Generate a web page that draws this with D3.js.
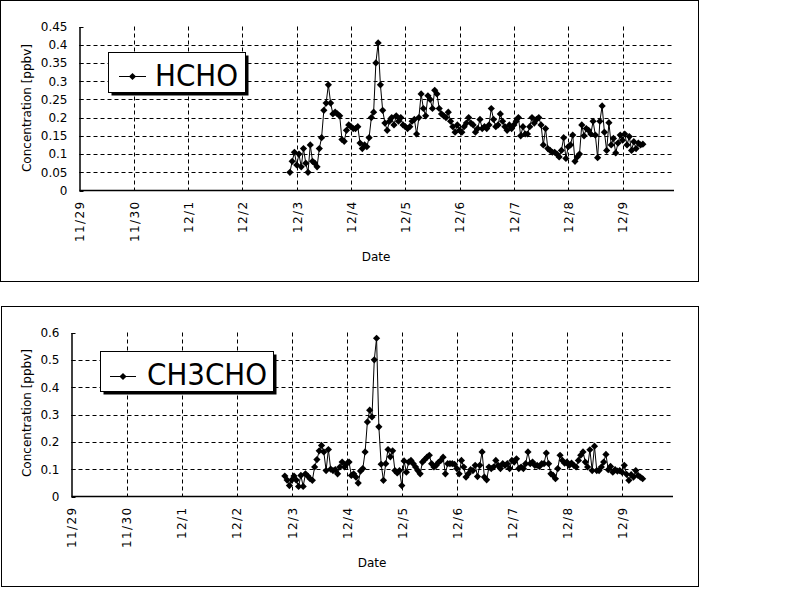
<!DOCTYPE html>
<html><head><meta charset="utf-8">
<script src="https://cdn.jsdelivr.net/npm/d3@7"></script>
<style>body{margin:0;background:#fff}svg{display:block}</style>
</head><body>
<svg id="c" width="800" height="600"></svg>
<script>
// ---------------- DATA ----------------
const xTickLabels = ["11/29","11/30","12/1","12/2","12/3","12/4","12/5","12/6","12/7","12/8","12/9"];
const sampleStart = [2004, 11, 2, 21]; // 12/2 21:00, hourly samples
const hchoYTicks = [0, 0.05, 0.1, 0.15, 0.2, 0.25, 0.3, 0.35, 0.4, 0.45];
const ch3choYTicks = [0, 0.1, 0.2, 0.3, 0.4, 0.5, 0.6];
const hchoValues = [
 0.05,0.08,0.105,0.07,0.1,0.065,0.115,0.075,0.05,0.125,
 0.08,0.075,0.065,0.115,0.145,0.22,0.24,0.29,0.24,0.21,
 0.215,0.21,0.205,0.14,0.135,0.165,0.18,0.175,0.17,0.17,
 0.175,0.13,0.115,0.125,0.12,0.145,0.2,0.215,0.35,0.405,
 0.29,0.22,0.185,0.165,0.19,0.2,0.18,0.205,0.19,0.2,
 0.18,0.175,0.17,0.175,0.19,0.195,0.155,0.2,0.265,0.225,
 0.205,0.26,0.25,0.225,0.275,0.265,0.225,0.21,0.205,0.2,
 0.215,0.19,0.175,0.16,0.18,0.165,0.16,0.175,0.185,0.2,
 0.185,0.18,0.16,0.17,0.195,0.17,0.175,0.17,0.18,0.225,
 0.195,0.175,0.18,0.21,0.19,0.175,0.165,0.18,0.17,0.18,
 0.19,0.2,0.15,0.175,0.155,0.155,0.175,0.2,0.185,0.195,
 0.2,0.18,0.125,0.17,0.115,0.11,0.105,0.105,0.1,0.092,
 0.11,0.145,0.088,0.12,0.125,0.152,0.08,0.092,0.1,0.18,
 0.15,0.17,0.165,0.155,0.19,0.152,0.09,0.19,0.232,0.16,
 0.11,0.186,0.125,0.143,0.103,0.13,0.152,0.138,0.155,0.125,
 0.148,0.11,0.134,0.115,0.13,0.125,0.127
];
const ch3choValues = [
 0.075,0.06,0.04,0.06,0.075,0.06,0.037,0.077,0.037,0.083,
 0.075,0.065,0.059,0.108,0.135,0.167,0.187,0.163,0.095,0.172,
 0.10,0.095,0.098,0.083,0.108,0.126,0.108,0.12,0.126,0.077,
 0.083,0.071,0.049,0.093,0.102,0.163,0.273,0.316,0.291,0.5,
 0.579,0.255,0.118,0.059,0.12,0.172,0.145,0.167,0.095,0.086,
 0.095,0.040,0.130,0.089,0.126,0.132,0.120,0.108,0.095,0.083,
 0.126,0.135,0.144,0.151,0.120,0.108,0.114,0.125,0.132,0.144,
 0.083,0.120,0.120,0.120,0.118,0.102,0.083,0.132,0.108,0.071,
 0.083,0.098,0.095,0.114,0.073,0.114,0.163,0.071,0.061,0.108,
 0.102,0.108,0.132,0.114,0.102,0.120,0.114,0.120,0.102,0.132,
 0.126,0.138,0.102,0.108,0.102,0.120,0.163,0.120,0.126,0.114,
 0.114,0.110,0.120,0.120,0.159,0.120,0.083,0.077,0.065,0.102,
 0.151,0.132,0.122,0.126,0.114,0.122,0.114,0.108,0.132,0.151,
 0.163,0.126,0.108,0.171,0.095,0.184,0.095,0.095,0.108,0.126,
 0.154,0.098,0.11,0.089,0.098,0.093,0.095,0.089,0.114,0.081,
 0.059,0.08,0.071,0.095,0.077,0.071,0.065
];

// ---------------- DRAW ----------------
const svg = d3.select("#c");
const FONT = "'DejaVu Sans', sans-serif";
const startDate = new Date(sampleStart[0], sampleStart[1], sampleStart[2], sampleStart[3]);
const day0 = new Date(2004, 10, 29);
const day10 = new Date(2004, 11, 9);
const tickDates = d3.timeDay.range(day0, d3.timeDay.offset(day10, 1));

function toPoints(vals) {
  return vals.map((v, i) => ({ t: d3.timeHour.offset(startDate, i), v }));
}

function drawChart(cfg) {
  const g = svg.append("g");
  // outer frame
  g.append("rect").attr("x", cfg.frame[0]).attr("y", cfg.frame[1])
    .attr("width", cfg.frame[2]).attr("height", cfg.frame[3])
    .attr("fill", "#fff").attr("stroke", "#000").attr("stroke-width", 1);

  const x = d3.scaleTime().domain([day0, day10]).range([cfg.left, cfg.x10]);
  const y = d3.scaleLinear().domain([0, cfg.yMax]).range([cfg.bottom, cfg.top]);

  // horizontal gridlines
  g.append("g").selectAll("line").data(cfg.yTicks.filter(d => d > 0 && d < cfg.yMax - 1e-9)).join("line")
    .attr("x1", cfg.left).attr("x2", cfg.right)
    .attr("y1", d => Math.round(y(d)) + 0.5).attr("y2", d => Math.round(y(d)) + 0.5)
    .attr("stroke", "#000").attr("stroke-dasharray", "4,3");
  // vertical gridlines
  g.append("g").selectAll("line").data(tickDates.slice(1)).join("line")
    .attr("x1", d => Math.round(x(d)) + 0.5).attr("x2", d => Math.round(x(d)) + 0.5)
    .attr("y1", cfg.top).attr("y2", cfg.bottom)
    .attr("stroke", "#000").attr("stroke-dasharray", "4,3");

  // y axis
  const yAxis = d3.axisLeft(y).tickValues(cfg.yTicks).tickSize(0).tickPadding(12)
    .tickFormat(d => String(+d.toFixed(2)));
  const ya = g.append("g").attr("transform", `translate(${cfg.left},0)`).call(yAxis);
  ya.select(".domain").attr("stroke", "#000").attr("stroke-width", 1.5);
  ya.selectAll("text").attr("font-family", FONT).attr("font-size", 12).attr("fill", "#000");
  // small inner tick marks
  g.append("g").selectAll("line").data(cfg.yTicks).join("line")
    .attr("x1", cfg.left).attr("x2", cfg.left + 4)
    .attr("y1", d => Math.round(y(d)) + 0.5).attr("y2", d => Math.round(y(d)) + 0.5)
    .attr("stroke", "#000");

  // x axis
  const xAxis = d3.axisBottom(x).tickValues(tickDates).tickSize(0).tickPadding(0)
    .tickFormat((d, i) => xTickLabels[i]);
  const xa = g.append("g").attr("transform", `translate(0,${cfg.bottom})`).call(xAxis);
  xa.select(".domain").remove();
  g.append("line").attr("x1", cfg.left).attr("x2", cfg.right)
    .attr("y1", cfg.bottom).attr("y2", cfg.bottom).attr("stroke", "#000").attr("stroke-width", 1.5);
  xa.selectAll("text")
    .attr("font-family", FONT).attr("font-size", 12).attr("fill", "#000")
    .attr("letter-spacing", 1.4)
    .attr("text-anchor", "end")
    .attr("transform", "translate(0,10) rotate(-90)")
    .attr("x", 0).attr("y", 0).attr("dy", "0.36em");

  // axis titles
  g.append("text").attr("transform", `translate(${cfg.yTitle[0]},${cfg.yTitle[1]}) rotate(-90)`)
    .attr("text-anchor", "middle").attr("dy", "0.36em")
    .attr("font-family", FONT).attr("font-size", 12).text("Concentration [ppbv]");
  g.append("text").attr("x", cfg.xTitle[0]).attr("y", cfg.xTitle[1])
    .attr("text-anchor", "middle")
    .attr("font-family", FONT).attr("font-size", 12).text("Date");

  // series
  const pts = toPoints(cfg.values);
  const line = d3.line().x(d => x(d.t)).y(d => y(d.v));
  g.append("path").datum(pts).attr("d", line).attr("fill", "none")
    .attr("stroke", "#000").attr("stroke-width", 1);
  const diamond = "M0,-3.6L3.6,0L0,3.6L-3.6,0Z";
  g.append("g").selectAll("path").data(pts).join("path")
    .attr("d", diamond).attr("transform", d => `translate(${x(d.t)},${y(d.v)})`)
    .attr("fill", "#000");

  // legend
  const L = cfg.legend;
  g.append("rect").attr("x", L.x + 3).attr("y", L.y + 3).attr("width", L.w).attr("height", L.h).attr("fill", "#000");
  g.append("rect").attr("x", L.x).attr("y", L.y).attr("width", L.w).attr("height", L.h)
    .attr("fill", "#fff").attr("stroke", "#000");
  g.append("line").attr("x1", L.lx1).attr("x2", L.lx2).attr("y1", L.ly).attr("y2", L.ly).attr("stroke", "#000");
  g.append("path").attr("d", diamond).attr("transform", `translate(${(L.lx1 + L.lx2) / 2},${L.ly})`).attr("fill", "#000");
  g.append("text").attr("x", L.tx).attr("y", L.ty)
    .attr("font-family", FONT).attr("font-size", 30)
    .attr("textLength", L.tw).attr("lengthAdjust", "spacingAndGlyphs")
    .text(cfg.name);
}

drawChart({
  name: "HCHO", values: hchoValues, yTicks: hchoYTicks, yMax: 0.45,
  frame: [0.5, 0.5, 698, 281],
  left: 79.5, x10: 622.5, right: 674, top: 26.5, bottom: 190.5,
  yTitle: [27, 108], xTitle: [376, 261],
  legend: { x: 108.5, y: 52.5, w: 137, h: 40, lx1: 119, lx2: 146, ly: 76.5, tx: 155, ty: 86, tw: 83 }
});
drawChart({
  name: "CH3CHO", values: ch3choValues, yTicks: ch3choYTicks, yMax: 0.6,
  frame: [1.5, 306.5, 697, 280],
  left: 71.5, x10: 622, right: 673, top: 332.5, bottom: 496.5,
  yTitle: [27, 413], xTitle: [372, 567],
  legend: { x: 100.5, y: 351.5, w: 173, h: 40, lx1: 110, lx2: 136, ly: 376.5, tx: 147, ty: 385, tw: 120 }
});
</script>
</body></html>
